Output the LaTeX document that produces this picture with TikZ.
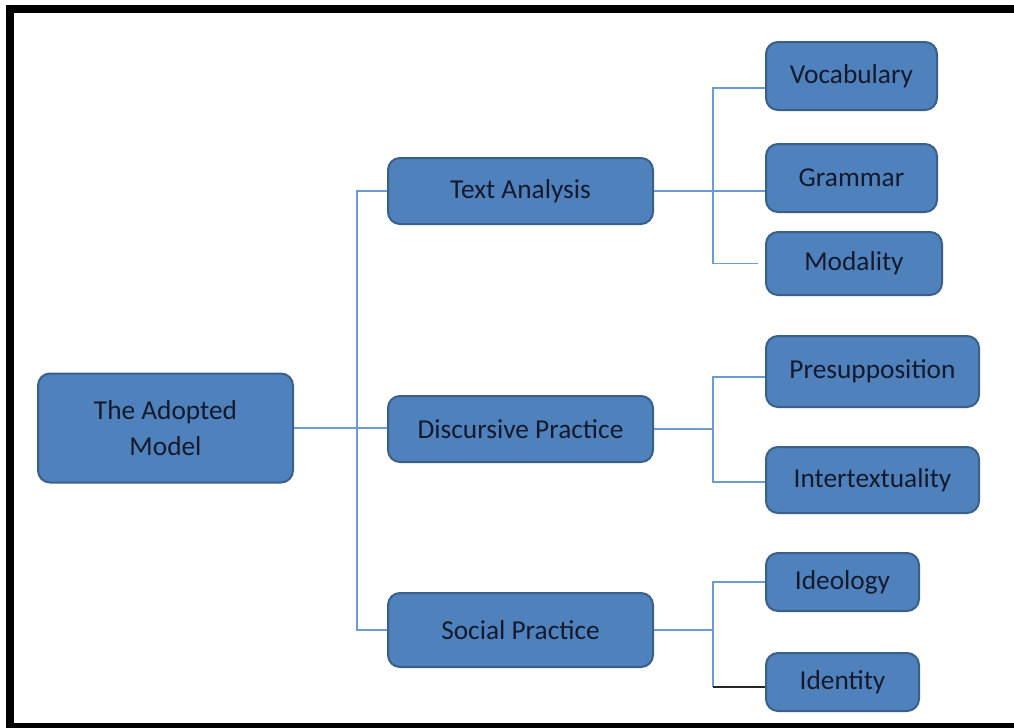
\documentclass[tikz,border=0pt]{standalone}
\usepackage{fontspec}
\setmainfont{Carlito}
\usepackage{tikz}
\usetikzlibrary{positioning}
\definecolor{boxfill}{HTML}{4F81BD}
\definecolor{boxedge}{HTML}{3A5F8B}
\definecolor{linkblue}{HTML}{6C9AD3}
\definecolor{textdark}{HTML}{141A2B}
\tikzset{box/.style = {draw=boxedge, fill=boxfill, line width=1.5pt,
                       rounded corners=9pt, text=textdark, align=center,
                       inner sep=0pt, font=\fontsize{20.5}{27}\selectfont},
         link/.style = {draw=linkblue, line width=1.1pt}}

\begin{document}
\begin{tikzpicture}[x=0.75pt, y=-0.75pt]
    \useasboundingbox (0,0) rectangle (1014,728);
    \draw[line width=6pt] (10,9) rectangle (1030,727);

    \node[box, minimum width=191.25pt, minimum height=81.75pt] (model) at (165.5,428) {The Adopted\\Model};

    \node[box, minimum width=198.75pt, minimum height=49.5pt] (text) at (520.5,191) {Text Analysis};
    \node[box, minimum width=198.75pt, minimum height=49.5pt] (disc) at (520.5,429) {Discursive Practice};
    \node[box, minimum width=198.75pt, minimum height=55.5pt] (soc) at (520.5,630) {Social Practice};

    \node[box, minimum width=128.25pt, minimum height=51pt] (voc) at (851.5,76) {Vocabulary};
    \node[box, minimum width=128.25pt, minimum height=51pt] (gram) at (851.5,178) {Grammar};
    \node[box, minimum width=132pt, minimum height=47.25pt] (moda) at (854,263.5) {Modality};
    \node[box, minimum width=159.75pt, minimum height=53.25pt] (pres) at (872.5,371.5) {Presupposition};
    \node[box, minimum width=159.75pt, minimum height=49.5pt] (inter) at (872.5,480) {Intertextuality};
    \node[box, minimum width=114.75pt, minimum height=43.5pt] (ideo) at (842.5,582) {Ideology};
    \node[box, minimum width=114.75pt, minimum height=43.5pt] (iden) at (842.5,682) {Identity};

    \coordinate (trunk) at (357,0);
    \coordinate (bus) at (713,0);

    % model to the three practices
    \draw[link] (model.east) -- (model.east -| disc.west);
    \draw[link] (text.west) -- (text.west -| trunk) -- (soc.west -| trunk) -- (soc.west);

    % text analysis
    \draw[link] (text.east) -- (text.east -| gram.west);
    \draw[link] ([yshift=-9pt]voc.west) -- ([yshift=-9pt]voc.west -| bus)
        -- (moda.west -| bus) -- ([xshift=-5pt]moda.west);

    % discursive practice
    \draw[link] (disc.east) -- (disc.east -| bus);
    \draw[link] ([yshift=-4pt]pres.west) -- ([yshift=-4pt]pres.west -| bus)
        -- ([yshift=-1.5pt]inter.west -| bus) -- ([yshift=-1.5pt]inter.west);

    % social practice
    \draw[link] (soc.east) -- (soc.east -| bus);
    \draw[link] (ideo.west) -- (ideo.west -| bus) -- ([yshift=-3.75pt]iden.west -| bus);
    \draw[line width=1.1pt, black!85] ([yshift=-3.75pt]iden.west -| bus) -- ([yshift=-3.75pt]iden.west);
\end{tikzpicture}
\end{document}
